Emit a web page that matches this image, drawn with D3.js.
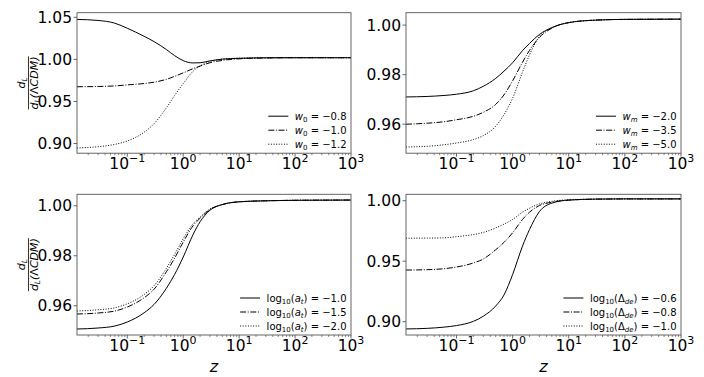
<!DOCTYPE html>
<html><head><meta charset="utf-8">
<script src="https://cdn.jsdelivr.net/npm/d3@7"></script>
<style>
body{margin:0;background:#fff}
svg{display:block}
text{font-family:"DejaVu Sans",sans-serif;fill:#000}
</style>
</head><body>
<svg id="chart" width="704" height="377"></svg>
<script>
// ---------- data ----------
const zValues = [0.0126, 0.03, 0.06, 0.1, 0.2, 0.3, 0.5, 0.7, 1, 1.5, 2, 3, 5, 10, 30, 100, 1000];
const xTickExponents = [-1, 0, 1, 2, 3];

// panel (a): w0
const w0Labels = ["−0.8", "−1.0", "−1.2"];
const w0_m08 = [1.0475,1.0463,1.0430,1.0370,1.0274,1.0212,1.0117,1.0045,0.9985,0.9958,0.9960,0.9982,1.0003,1.0013,1.0019,1.0020,1.0020];
const w0_m10 = [0.9675,0.9678,0.9685,0.9697,0.9713,0.9729,0.9763,0.9798,0.9840,0.9890,0.9920,0.9960,0.9988,1.0007,1.0016,1.0020,1.0020];
const w0_m12 = [0.8948,0.8962,0.8990,0.9030,0.9135,0.9235,0.9424,0.9570,0.9712,0.9860,0.9922,0.9975,1.0003,1.0014,1.0019,1.0020,1.0020];
const w0Ticks = [0.90, 0.95, 1.00, 1.05];

// panel (b): wm
const wmLabels = ["−2.0", "−3.5", "−5.0"];
const wm_m20 = [0.9710,0.9712,0.9716,0.9721,0.9735,0.9753,0.9785,0.9814,0.9848,0.9897,0.9926,0.9962,0.9990,1.0010,1.0020,1.0023,1.0024];
const wm_m35 = [0.9600,0.9604,0.9610,0.9618,0.9632,0.9648,0.9680,0.9718,0.9775,0.9850,0.9898,0.9950,0.9988,1.0010,1.0020,1.0023,1.0024];
const wm_m50 = [0.9508,0.9511,0.9517,0.9524,0.9538,0.9554,0.9592,0.9638,0.9705,0.9810,0.9880,0.9955,0.9988,1.0010,1.0020,1.0023,1.0024];
const wmTicks = [0.96, 0.98, 1.00];

// panel (c): log10(a_t)
const atLabels = ["−1.0", "−1.5", "−2.0"];
const at_m10 = [0.9507,0.9511,0.9519,0.9535,0.9572,0.9605,0.9670,0.9725,0.9795,0.9885,0.9936,0.9982,1.0005,1.0016,1.0020,1.0022,1.0023];
const at_m15 = [0.9567,0.9571,0.9579,0.9595,0.9632,0.9666,0.9736,0.9790,0.9855,0.9920,0.9950,0.9985,1.0005,1.0016,1.0020,1.0022,1.0023];
const at_m20 = [0.9579,0.9584,0.9592,0.9608,0.9645,0.9680,0.9750,0.9805,0.9868,0.9928,0.9955,0.9987,1.0005,1.0016,1.0020,1.0022,1.0023];
const atTicks = [0.96, 0.98, 1.00];

// panel (d): log10(Delta_de)
const deLabels = ["−0.6", "−0.8", "−1.0"];
const de_m06 = [0.8940,0.8945,0.8955,0.8968,0.9003,0.9045,0.9130,0.9220,0.9390,0.9625,0.9762,0.9910,0.9980,1.0005,1.0013,1.0015,1.0015];
const de_m08 = [0.9427,0.9430,0.9438,0.9452,0.9485,0.9518,0.9595,0.9655,0.9735,0.9845,0.9905,0.9960,0.9988,1.0005,1.0013,1.0015,1.0015];
const de_m10 = [0.9690,0.9691,0.9693,0.9703,0.9720,0.9738,0.9775,0.9806,0.9845,0.9905,0.9938,0.9973,0.9995,1.0008,1.0013,1.0015,1.0015];
const deTicks = [0.90, 0.95, 1.00];

// ---------- layout ----------
const svg = d3.select("#chart");
const dashStyles = [null, "6,1.6,1,1.6", "1,1.6"];
const panels = [
  {x:77,  y:12.7,  w:274, h:140.5, ydom:[0.8885,1.0555], series:[w0_m08,w0_m10,w0_m12], labels:w0Labels, kind:"w0", ticks:w0Ticks, ylabel:true,  xlabel:false},
  {x:406, y:12.7,  w:275, h:140.5, ydom:[0.9483,1.0050], series:[wm_m20,wm_m35,wm_m50], labels:wmLabels, kind:"wm", ticks:wmTicks, ylabel:false, xlabel:false},
  {x:77,  y:194.3, w:274, h:140.7, ydom:[0.9483,1.0046], series:[at_m10,at_m15,at_m20], labels:atLabels, kind:"at", ticks:atTicks, ylabel:true,  xlabel:true},
  {x:406, y:194.3, w:275, h:140.7, ydom:[0.8890,1.0053], series:[de_m06,de_m08,de_m10], labels:deLabels, kind:"de", ticks:deTicks, ylabel:false, xlabel:true}
];

function legendText(t, kind, val){
  const sub = (s, italic) => { t.append("tspan").attr("dy",2.5).attr("font-size","7px").attr("font-style",italic?"italic":"normal").text(s); };
  const back = (s, italic) => { t.append("tspan").attr("dy",-2.5).attr("font-style",italic?"italic":"normal").text(s); };
  if(kind==="w0"){
    t.append("tspan").attr("font-style","italic").text("w");
    sub("0",false); back(" = " + val,false);
  } else if(kind==="wm"){
    t.append("tspan").attr("font-style","italic").text("w");
    sub("m",true); back(" = " + val,false);
  } else if(kind==="at"){
    t.append("tspan").text("log");
    sub("10",false); back("(",false);
    t.append("tspan").attr("font-style","italic").text("a");
    sub("t",true); back(") = " + val,false);
  } else {
    t.append("tspan").text("log");
    sub("10",false); back("(Δ",false);
    sub("de",true); back(") = " + val,false);
  }
}

panels.forEach(p => {
  const g = svg.append("g");
  const x = d3.scaleLog().domain([0.0126, 1000]).range([p.x, p.x + p.w]);
  const y = d3.scaleLinear().domain(p.ydom).range([p.y + p.h, p.y]);

  // curves
  const clipId = "clip" + p.kind;
  svg.append("clipPath").attr("id", clipId).append("rect")
    .attr("x", p.x).attr("y", p.y).attr("width", p.w).attr("height", p.h);
  const line = d3.line().x((d,i)=>x(zValues[i])).y(d=>y(d)).curve(d3.curveMonotoneX);
  p.series.forEach((s, k) => {
    g.append("path").attr("d", line(s)).attr("fill","none").attr("stroke","#000")
      .attr("stroke-width", 1).attr("stroke-dasharray", dashStyles[k]).attr("clip-path","url(#"+clipId+")");
  });

  // frame
  g.append("rect").attr("x", p.x).attr("y", p.y).attr("width", p.w).attr("height", p.h)
    .attr("fill","none").attr("stroke","#555").attr("stroke-width",0.9);

  // x ticks
  const bottom = p.y + p.h;
  const minor = [];
  for(let k=-2;k<=2;k++) for(let m=2;m<=9;m++){ const v=m*Math.pow(10,k); if(v>=0.0126 && v<=1000) minor.push(v); }
  minor.forEach(v => g.append("line").attr("x1",x(v)).attr("x2",x(v)).attr("y1",bottom).attr("y2",bottom+2)
      .attr("stroke","#555").attr("stroke-width",0.7));
  xTickExponents.forEach(e => {
    const v = Math.pow(10,e);
    g.append("line").attr("x1",x(v)).attr("x2",x(v)).attr("y1",bottom).attr("y2",bottom+3.5)
      .attr("stroke","#555").attr("stroke-width",0.9);
    const t = g.append("text").attr("x", x(v)).attr("y", bottom+16).attr("text-anchor","middle").attr("font-size","15.5px");
    t.append("tspan").text("10");
    t.append("tspan").attr("dy",-7.5).attr("font-size","11px").text(e<0 ? "−"+Math.abs(e) : String(e));
  });

  // y ticks
  p.ticks.forEach(v => {
    g.append("line").attr("x1",p.x-3.5).attr("x2",p.x).attr("y1",y(v)).attr("y2",y(v))
      .attr("stroke","#555").attr("stroke-width",0.9);
    g.append("text").attr("x", p.x-5).attr("y", y(v)).attr("dy","0.36em").attr("text-anchor","end")
      .attr("font-size","15.5px").text(d3.format(".2f")(v));
  });

  // legend
  const rows = [p.y+p.h-37, p.y+p.h-23, p.y+p.h-9];
  const texts = p.labels.map((lab,k) => {
    const t = g.append("text").attr("y", rows[k]).attr("dy","0.35em").attr("font-size","10px");
    legendText(t, p.kind, lab);
    return t;
  });
  const maxW = d3.max(texts, t => t.node().getComputedTextLength());
  const tx = p.x + p.w - 4.5 - maxW;
  texts.forEach((t,k) => {
    t.attr("x", tx);
    g.append("line").attr("x1", tx-26.5).attr("x2", tx-6.5).attr("y1", rows[k]).attr("y2", rows[k])
      .attr("stroke","#000").attr("stroke-width",1).attr("stroke-dasharray", dashStyles[k]);
  });

  // y label
  if(p.ylabel){
    const cy = p.y + p.h/2;
    const yl = g.append("g").attr("transform", `translate(28.5,${cy}) rotate(-90)`);
    yl.append("line").attr("x1",-26.5).attr("x2",26.5).attr("y1",0).attr("y2",0).attr("stroke","#000").attr("stroke-width",0.8);
    const n = yl.append("text").attr("x",0).attr("y",-3.5).attr("text-anchor","middle").attr("font-size","11px").attr("font-style","italic");
    n.append("tspan").text("d");
    n.append("tspan").attr("dy",2).attr("font-size","7.5px").text("L");
    const dn = yl.append("text").attr("x",0).attr("y",9).attr("text-anchor","middle").attr("font-size","11px").attr("font-style","italic");
    dn.append("tspan").text("d");
    dn.append("tspan").attr("dy",2).attr("font-size","7.5px").text("L");
    dn.append("tspan").attr("dy",-2).text("(");
    dn.append("tspan").attr("font-style","normal").text("Λ");
    dn.append("tspan").text("CDM)");
  }
  if(p.xlabel){
    g.append("text").attr("x", p.x + p.w/2).attr("y", 372).attr("text-anchor","middle")
      .attr("font-size","16px").attr("font-style","italic").text("z");
  }
});
</script>
</body></html>
